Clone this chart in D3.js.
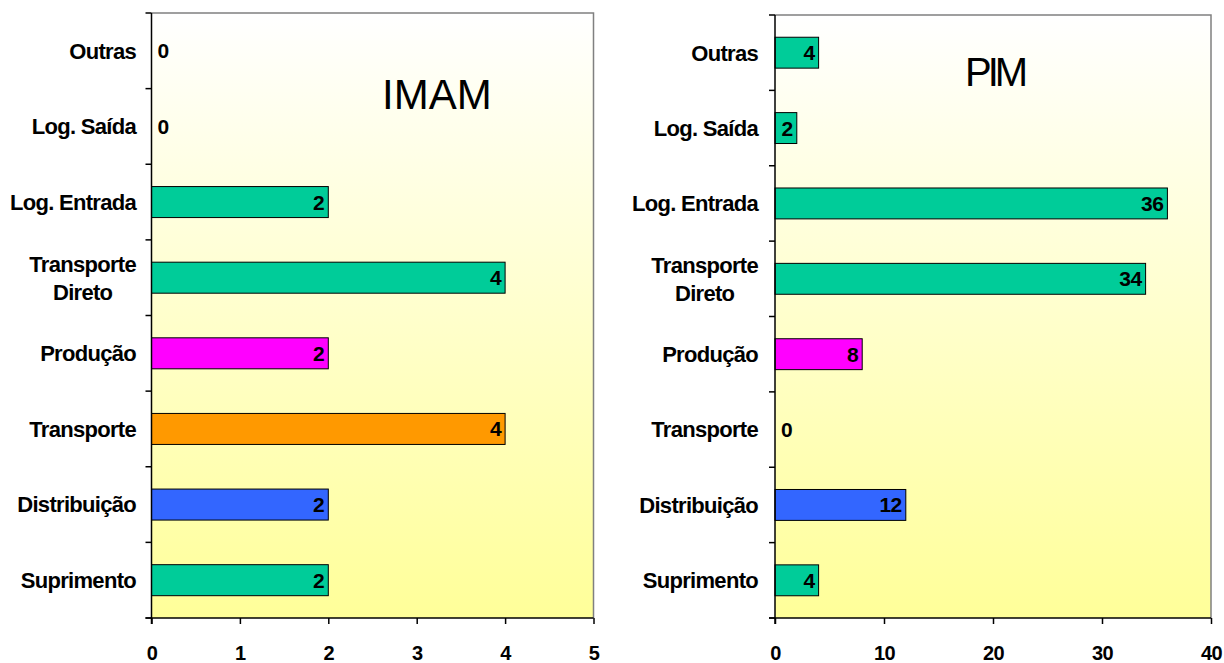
<!DOCTYPE html>
<html>
<head>
<meta charset="utf-8">
<script src="https://cdn.jsdelivr.net/npm/d3@7"></script>
<style>
  html, body { margin: 0; padding: 0; background: #ffffff; }
  svg { display: block; }
  text { font-family: "Liberation Sans", Arial, sans-serif; }
</style>
</head>
<body>
<svg id="chart" width="1224" height="663"></svg>
<script>
// Categories, top to bottom
const categories = ["Outras", "Log. Saída", "Log. Entrada", "Transporte Direto",
                    "Produção", "Transporte", "Distribuição", "Suprimento"];
// Multi-line category labels
const categoryLines = [["Outras"], ["Log. Saída"], ["Log. Entrada"], ["Transporte", "Direto"],
                       ["Produção"], ["Transporte"], ["Distribuição"], ["Suprimento"]];
const barColors = ["#00CC99", "#00CC99", "#00CC99", "#00CC99",
                   "#FF00FF", "#FF9900", "#3366FF", "#00CC99"];

const imamValues = [0, 0, 2, 4, 2, 4, 2, 2];
const pimValues  = [4, 2, 36, 34, 8, 0, 12, 4];

const imamTicks = [0, 1, 2, 3, 4, 5];
const pimTicks  = [0, 10, 20, 30, 40];

const svg = d3.select("#chart");

// Shared background gradient for both plot areas
const defs = svg.append("defs");
const grad = defs.append("linearGradient")
  .attr("id", "plotBg").attr("x1", 0).attr("y1", 0).attr("x2", 0).attr("y2", 1);
grad.append("stop").attr("offset", "0%").attr("stop-color", "#FFFFFF");
grad.append("stop").attr("offset", "100%").attr("stop-color", "#FFFF99");

function drawPanel(opts) {
  const { left, right, top, bottom, values, ticks, maxVal, title, titleX, titleY, titleSize, titleSpacing, labelRight } = opts;
  const g = svg.append("g");

  const x = d3.scaleLinear().domain([0, maxVal]).range([left, right]);
  const y = d3.scaleBand().domain(categories).range([top, bottom]).paddingInner(0.59).paddingOuter(0.295);
  const yStep = (bottom - top) / categories.length;

  // plot area
  g.append("rect")
    .attr("x", left).attr("y", top)
    .attr("width", right - left).attr("height", bottom - top)
    .attr("fill", "url(#plotBg)");

  // top and right frame lines
  g.append("path")
    .attr("d", `M${left},${top}H${right}V${bottom}`)
    .attr("fill", "none").attr("stroke", "#808080").attr("stroke-width", 1.5);

  // bars
  g.selectAll("rect.bar").data(values).enter().append("rect")
    .attr("class", "bar")
    .attr("x", x(0))
    .attr("y", (d, i) => y(categories[i]))
    .attr("width", d => x(d) - x(0))
    .attr("height", y.bandwidth())
    .attr("fill", (d, i) => barColors[i])
    .attr("stroke", "#000")
    .attr("stroke-width", 1)
    .style("display", d => d > 0 ? null : "none");

  // value labels
  g.selectAll("text.val").data(values).enter().append("text")
    .attr("class", "val")
    .attr("x", d => d > 0 ? x(d) - 4 : x(0) + 6)
    .attr("y", (d, i) => y(categories[i]) + y.bandwidth() / 2)
    .attr("dy", "0.36em")
    .attr("text-anchor", d => d > 0 ? "end" : "start")
    .attr("font-size", 21).attr("font-weight", "bold")
    .attr("letter-spacing", -0.5)
    .attr("fill", "#000")
    .text(d => d);

  // y axis (category boundaries as ticks)
  const yAxis = g.append("g");
  yAxis.append("line")
    .attr("x1", left).attr("x2", left).attr("y1", top).attr("y2", bottom + 6)
    .attr("stroke", "#000").attr("stroke-width", 1.5);
  d3.range(categories.length + 1).forEach(k => {
    yAxis.append("line")
      .attr("x1", left - 6).attr("x2", left)
      .attr("y1", top + k * yStep).attr("y2", top + k * yStep)
      .attr("stroke", "#000").attr("stroke-width", 1.5);
  });

  // category labels
  categoryLines.forEach((lines, i) => {
    const cy = y(categories[i]) + y.bandwidth() / 2;
    const lh = 28;
    const t = yAxis.append("text")
      .attr("font-size", 22).attr("font-weight", "bold").attr("fill", "#000")
      .attr("letter-spacing", -0.7);
    if (lines.length === 1) {
      t.attr("x", labelRight).attr("y", cy).attr("dy", "0.36em")
        .attr("text-anchor", "end").text(lines[0]);
    } else {
      // lines centered on each other, block right-aligned
      const spans = lines.map((ln, j) => t.append("tspan")
        .attr("y", cy + (j - (lines.length - 1) / 2) * lh)
        .attr("dy", "0.36em")
        .attr("text-anchor", "middle")
        .text(ln));
      const widest = d3.max(spans, s => s.node().getComputedTextLength());
      spans.forEach(s => s.attr("x", labelRight - widest / 2));
    }
  });

  // x axis
  const xAxis = g.append("g").attr("transform", `translate(0,${bottom})`)
    .call(d3.axisBottom(x).tickValues(ticks).tickSize(6).tickFormat(d3.format("d")));
  xAxis.select(".domain").attr("stroke", "#000").attr("stroke-width", 1.5)
    .attr("d", `M${left - 6},0H${right}`);
  xAxis.selectAll(".tick line").attr("stroke", "#000").attr("stroke-width", 1.5);
  xAxis.selectAll(".tick text")
    .attr("font-family", "Liberation Sans, Arial, sans-serif")
    .attr("font-size", 20).attr("font-weight", "bold").attr("fill", "#000")
    .attr("letter-spacing", -0.5)
    .attr("y", 28);

  // panel title
  g.append("text")
    .attr("x", titleX).attr("y", titleY)
    .attr("font-size", titleSize).attr("fill", "#000")
    .attr("letter-spacing", titleSpacing)
    .text(title);
}

drawPanel({
  left: 151.5, right: 593.5, top: 13, bottom: 618,
  values: imamValues, ticks: imamTicks, maxVal: 5,
  title: "IMAM", titleX: 382, titleY: 109, titleSize: 42, titleSpacing: 0,
  labelRight: 136
});

drawPanel({
  left: 775, right: 1211, top: 15, bottom: 618,
  values: pimValues, ticks: pimTicks, maxVal: 40,
  title: "PIM", titleX: 965, titleY: 86, titleSize: 40, titleSpacing: -4,
  labelRight: 758
});
</script>
</body>
</html>
